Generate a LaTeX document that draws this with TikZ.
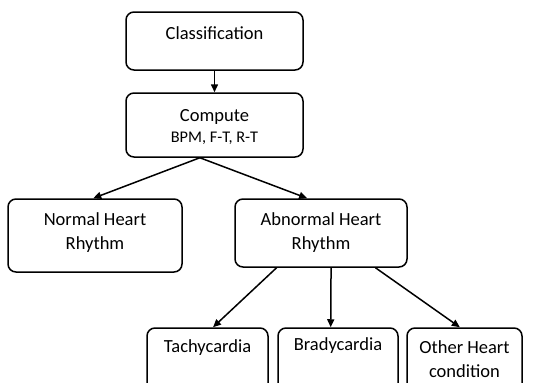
\documentclass[tikz,border=0pt]{standalone}
\usepackage{fontspec}
\setmainfont{Carlito}
\usetikzlibrary{calc,arrows.meta}
\begin{document}
\begin{tikzpicture}[x=1pt,y=-1pt,
  box/.style={draw=black,line width=1.5pt,rounded corners=8pt,inner sep=0pt},
  big/.style={font=\fontsize{18.5}{24}\selectfont,align=center,inner sep=0pt},
  small/.style={font=\fontsize{16.3}{20}\selectfont,align=center,inner sep=0pt},
  arr/.style={line width=1.5pt,-{Triangle[length=8pt,width=7pt]}}]
\path[use as bounding box] (0,0) rectangle (539,383);
\clip (0,0) rectangle (539,383);
\node[box,minimum width=177pt,minimum height=58pt] (cls) at (214.5,41) {};
\node[big] (clst) at (214.5,33) {Classification};
\node[box,minimum width=177pt,minimum height=64pt] (cmp) at (214.5,125) {};
\node[big] (cmpt) at (214.5,117) {Compute};
\node[small] (cmps) at (214.5,138) {BPM, F-T, R-T};
\node[box,minimum width=174pt,minimum height=73pt] (nrm) at (95,235.5) {};
\node[big] (nrmt) at (95,232.5) {Normal Heart\\Rhythm};
\node[box,minimum width=172pt,minimum height=68pt] (abn) at (321,233) {};
\node[big] (abnt) at (321,233) {Abnormal Heart\\Rhythm};
\node[box,minimum width=121pt,minimum height=68pt] (tac) at (207.5,362) {};
\node[big] (tact) at (207.5,348) {Tachycardia};
\node[box,minimum width=120pt,minimum height=68pt] (bra) at (338,362) {};
\node[big] (brat) at (338,346) {Bradycardia};
\node[box,minimum width=115pt,minimum height=68pt] (oth) at (464.5,362) {};
\node[big] (otht) at (464.5,359) {Other Heart\\condition};
\draw[arr] (cls.south) -- (cmp.north);
\draw[arr] ($(cmp.south west)!0.418!(cmp.south east)$) -- ($(nrm.north west)!0.49!(nrm.north east)$);
\draw[arr] ($(cmp.south west)!0.418!(cmp.south east)$) -- ($(abn.north west)!0.42!(abn.north east)$);
\draw[arr] ($(abn.south west)!0.244!(abn.south east)$) -- ($(tac.north west)!0.545!(tac.north east)$);
\draw[arr] ($(abn.south west)!0.558!(abn.south east)$) -- ($(bra.north west)!0.44!(bra.north east)$);
\draw[arr] ($(abn.south west)!0.814!(abn.south east)$) -- ($(oth.north west)!0.46!(oth.north east)$);
\end{tikzpicture}
\end{document}
